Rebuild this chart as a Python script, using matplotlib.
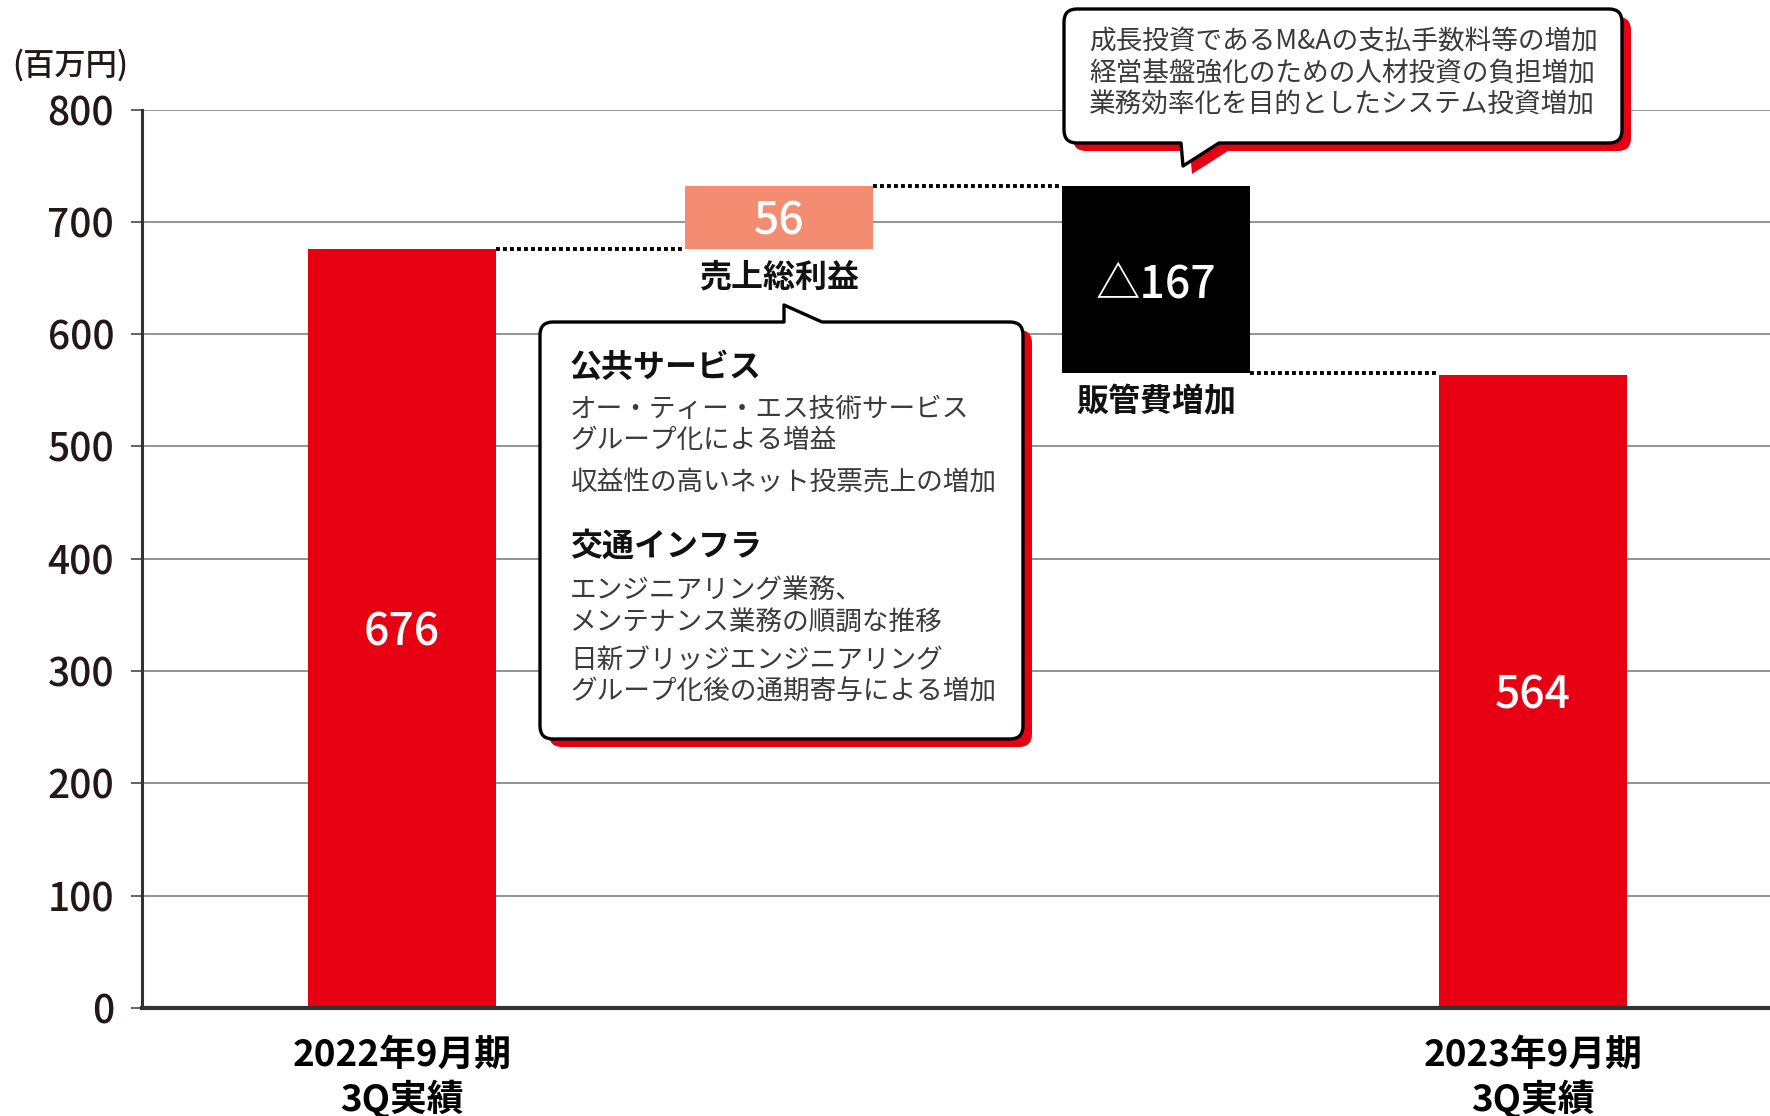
import numpy as np
import matplotlib
matplotlib.use("Agg")
import matplotlib.pyplot as plt
from matplotlib.path import Path
from matplotlib.patches import PathPatch

plt.rcParams['font.family'] = ['Noto Sans CJK JP', 'DejaVu Sans']

# data (百万円)
categories = ["2022年9月期\n3Q実績", "売上総利益", "販管費増加", "2023年9月期\n3Q実績"]
start_value = 676
gross_profit_delta = 56
sga_delta = -167
end_value = 564
value_labels = ["676", "56", "△167", "564"]
y_ticks = [0, 100, 200, 300, 400, 500, 600, 700, 800]

callout_sales = [
    ("公共サービス", True),
    ("オー・ティー・エス技術サービス", False),
    ("グループ化による増益", False),
    ("収益性の高いネット投票売上の増加", False),
    ("交通インフラ", True),
    ("エンジニアリング業務、", False),
    ("メンテナンス業務の順調な推移", False),
    ("日新ブリッジエンジニアリング", False),
    ("グループ化後の通期寄与による増加", False),
]
callout_sga = [
    "成長投資であるM&Aの支払手数料等の増加",
    "経営基盤強化のための人材投資の負担増加",
    "業務効率化を目的としたシステム投資増加",
]

RED = "#E60012"
SALMON = "#F38C71"
W, H = 1770, 1116

# waterfall geometry
after_gp = start_value + gross_profit_delta
bottoms = [0, start_value, after_gp + sga_delta, 0]
heights = [start_value, gross_profit_delta, -sga_delta, end_value]
colors = [RED, SALMON, "black", RED]
x = np.arange(len(categories))

fig = plt.figure(figsize=(W / 100, H / 100), dpi=100)
ax = fig.add_axes([142 / W, 1 - 1008 / H, (W - 142) / W, (1008 - 109.5) / H])

ax.bar(x, heights, bottom=bottoms, width=0.5, color=colors, zorder=3)
ax.set_xlim(-0.69, 3.628)
ax.set_ylim(0, 800)

# grid / spines
ax.set_yticks(y_ticks)
ax.set_yticklabels([str(v) for v in y_ticks], fontsize=28, fontweight="medium",
                   color="#231815")
ax.yaxis.grid(True, color="#8a8a8a", lw=1.3, zorder=0)
ax.tick_params(axis="y", length=8, width=1.3, color="#555555", pad=12)
for s in ["top", "right"]:
    ax.spines[s].set_visible(False)
ax.spines["left"].set_color("#333333")
ax.spines["left"].set_linewidth(2.2)
ax.spines["bottom"].set_color("#333333")
ax.spines["bottom"].set_linewidth(3)
ax.spines["bottom"].set_zorder(4)

ax.set_xticks([x[0], x[3]])
ax.set_xticklabels([categories[0], categories[3]], fontsize=26.5, fontweight="bold",
                   linespacing=1.18)
ax.tick_params(axis="x", length=0, pad=21)

# value labels inside bars
for xi, b, h, lab in zip(x, bottoms, heights, value_labels):
    ax.text(xi, b + h / 2, lab, ha="center", va="center_baseline", color="white",
            fontsize=32, fontweight="medium", zorder=5)

# labels under the floating bars
for xi in [1, 2]:
    ax.annotate(categories[xi], (xi, bottoms[xi]), xytext=(0, -21),
                textcoords="offset points", ha="center", va="center",
                fontsize=23, fontweight="bold", color="#111111")

# dotted connectors
dot = dict(color="black", lw=2.8, ls=(0, (1, 0.8)), zorder=2)
ax.plot([x[0] + 0.25, x[1] - 0.25], [start_value, start_value], **dot)
ax.plot([x[1] + 0.25, x[2] - 0.25], [after_gp, after_gp], **dot)
ax.plot([x[2] + 0.25, x[3] - 0.25], [bottoms[2], bottoms[2]], **dot)

fig.text(70 / W, 1 - 65 / H, "(百万円)", ha="center", va="center",
         fontsize=22.5, fontweight="medium", color="#231815")


def px(xp, yp):
    return (xp / W, 1 - yp / H)


def callout_path(x0, y0, x1, y1, pl, apex, pr, side, r=13, dx=0, dy=0):
    verts, codes = [], []

    def add(pt, code):
        verts.append(px(pt[0] + dx, pt[1] + dy))
        codes.append(code)

    add((x0 + r, y0), Path.MOVETO)
    if side == "top":
        add((pl, y0), Path.LINETO)
        add(apex, Path.LINETO)
        add((pr, y0), Path.LINETO)
    add((x1 - r, y0), Path.LINETO)
    add((x1, y0), Path.CURVE3)
    add((x1, y0 + r), Path.CURVE3)
    add((x1, y1 - r), Path.LINETO)
    add((x1, y1), Path.CURVE3)
    add((x1 - r, y1), Path.CURVE3)
    if side == "bottom":
        add((pr, y1), Path.LINETO)
        add(apex, Path.LINETO)
        add((pl, y1), Path.LINETO)
    add((x0 + r, y1), Path.LINETO)
    add((x0, y1), Path.CURVE3)
    add((x0, y1 - r), Path.CURVE3)
    add((x0, y0 + r), Path.LINETO)
    add((x0, y0), Path.CURVE3)
    add((x0 + r, y0), Path.CURVE3)
    add((x0 + r, y0), Path.CLOSEPOLY)
    return Path(verts, codes)


def draw_callout(*args, **kw):
    shadow = callout_path(*args, dx=9, dy=8, **kw)
    fig.add_artist(PathPatch(shadow, transform=fig.transFigure,
                             facecolor=RED, edgecolor="none", zorder=6))
    box = callout_path(*args, **kw)
    fig.add_artist(PathPatch(box, transform=fig.transFigure,
                             facecolor="white", edgecolor="black", lw=2.4,
                             joinstyle="round", zorder=7))


# callout for gross profit
draw_callout(540, 322, 1023, 739, 784, (784, 305), 822, "top")
line_y = [368, 409, 441, 483, 547, 590, 622, 660, 692]
for (txt, bold), yy in zip(callout_sales, line_y):
    fig.text(*px(570, yy), txt, ha="left", va="center",
             fontsize=23 if bold else 19.2,
             fontweight="bold" if bold else "normal",
             color="#111111" if bold else "#3a3a3a", zorder=8)

# callout for SG&A
draw_callout(1064, 9, 1622, 143, 1181, (1183, 166), 1219, "bottom")
for txt, yy in zip(callout_sga, [42, 74, 105]):
    fig.text(*px(1089, yy), txt, ha="left", va="center", fontsize=19.2,
             color="#3a3a3a", zorder=8)

fig.savefig("out.png", dpi=100)
